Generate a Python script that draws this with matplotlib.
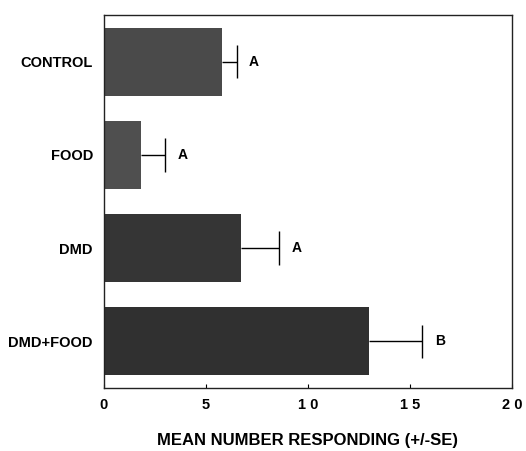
import matplotlib
matplotlib.use("Agg")
import matplotlib.pyplot as plt

categories = ["CONTROL", "FOOD", "DMD", "DMD+FOOD"]
means = [5.8, 1.8, 6.7, 13.0]
se = [0.7, 1.2, 1.9, 2.6]
letters = ["A", "A", "A", "B"]
colors = ["#4a4a4a", "#4f4f4f", "#353535", "#303030"]
xticks = [0, 5, 10, 15, 20]
xticklabels = ["0", "5", "1 0", "1 5", "2 0"]

plt.rcParams['font.family'] = ['Liberation Sans', 'DejaVu Sans']

fig = plt.figure(figsize=(5.26, 4.51), dpi=100)
ax = fig.add_axes([0.1977, 0.1397, 0.7757, 0.827])

pos = list(range(len(categories)))
bar_h = 0.73
cap_h = 0.36
ax.barh(pos, means, height=bar_h, color=colors, edgecolor="none")
tops = [m + s for m, s in zip(means, se)]
ax.hlines(pos, means, tops, colors="black", linewidth=1.0)
ax.vlines(tops, [p - cap_h / 2 for p in pos], [p + cap_h / 2 for p in pos],
          colors="black", linewidth=1.0)
for p, t, l in zip(pos, tops, letters):
    ax.annotate(l, xy=(t, p), xytext=(9, 0), textcoords="offset points",
                ha="left", va="center", fontsize=10, fontweight="bold")

ax.set_xlim(0, 20)
ax.set_ylim(3.5, -0.5)
ax.set_yticks(pos)
ax.set_yticklabels(categories, fontsize=10.5, fontweight="bold")
ax.tick_params(axis="y", length=0, pad=8)
ax.set_xticks(xticks)
ax.set_xticklabels(xticklabels, fontsize=10.5, fontweight="bold")
ax.tick_params(axis="x", direction="in", length=3, pad=7, top=False)
ax.set_xlabel("MEAN NUMBER RESPONDING (+/-SE)", fontsize=12, fontweight="bold", labelpad=15)
for sp in ax.spines.values():
    sp.set_linewidth(1.0)
    sp.set_color("#222222")

fig.savefig("out.png", dpi=100)
